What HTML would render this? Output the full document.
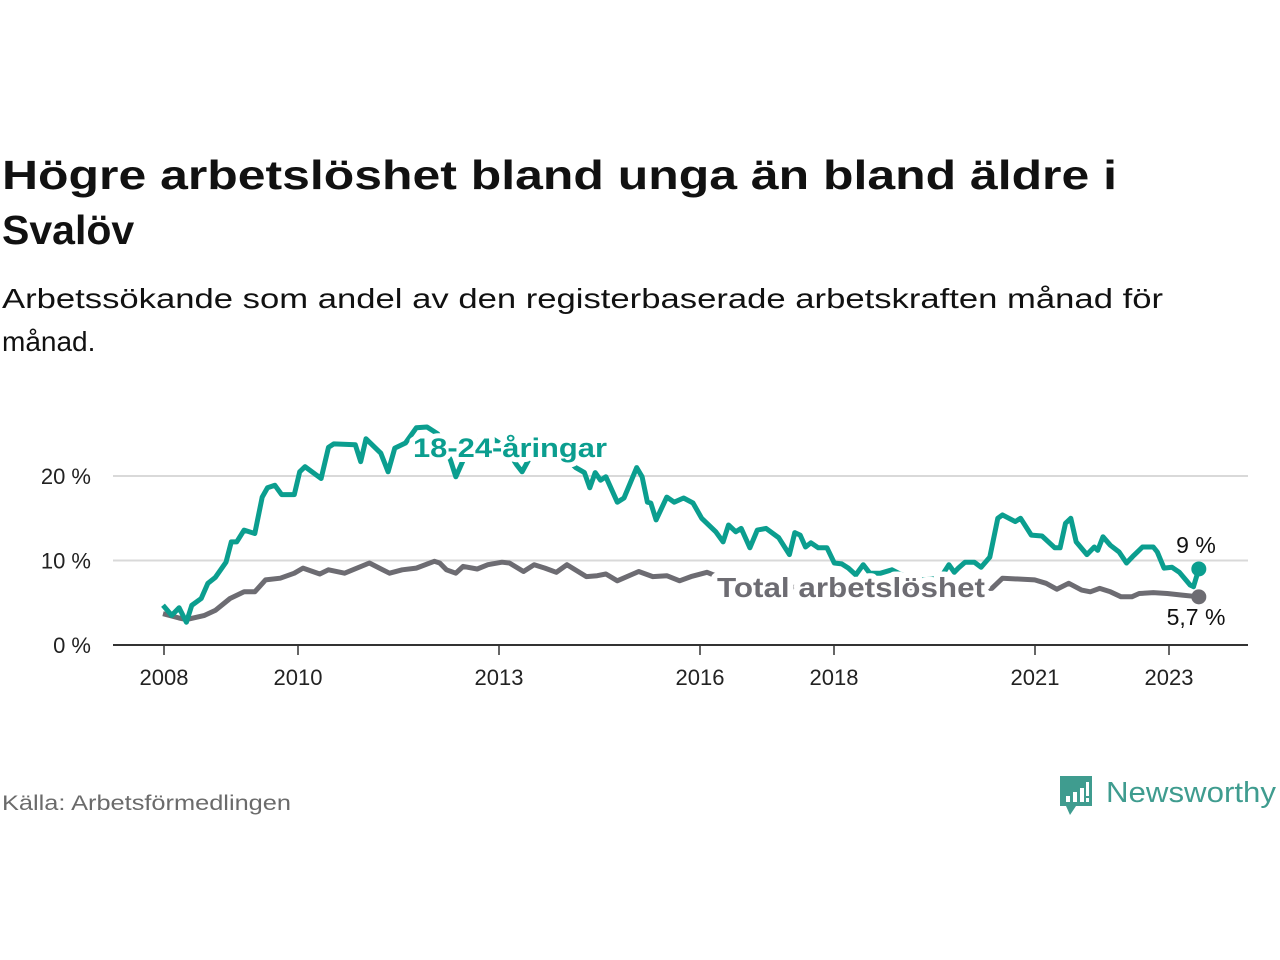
<!DOCTYPE html>
<html><head><meta charset="utf-8"><style>
html,body{margin:0;padding:0;background:#fff;width:1280px;height:960px;overflow:hidden}
svg{display:block;font-family:"Liberation Sans",sans-serif}
</style></head><body>
<svg id="chart" width="1280" height="960" viewBox="0 0 1280 960">
<text x="2" y="189" font-size="41" font-weight="bold" fill="#111" textLength="1115" lengthAdjust="spacingAndGlyphs">Högre arbetslöshet bland unga än bland äldre i</text>
<text x="2" y="244" font-size="41" font-weight="bold" fill="#111">Svalöv</text>
<text x="2" y="308" font-size="28" fill="#111" textLength="1161" lengthAdjust="spacingAndGlyphs">Arbetssökande som andel av den registerbaserade arbetskraften månad för</text>
<text x="2" y="351" font-size="28" fill="#111">månad.</text>
<g id="grid"></g>
<g id="lines"></g>
<g id="labels"></g>
<text x="2" y="810" font-size="21" fill="#6b6b6b" textLength="289" lengthAdjust="spacingAndGlyphs">Källa: Arbetsförmedlingen</text>
<g>
<path d="M1060 776 h32 v30 h-16 l-6 9 l-4 -9 h-6 z" fill="#3f9c8f"/>
<rect x="1066" y="796" width="4" height="6" fill="#fff"/><rect x="1073" y="792" width="4" height="10" fill="#fff"/><rect x="1080" y="788" width="4" height="14" fill="#fff"/><rect x="1086" y="782" width="3" height="14" fill="#fff"/><rect x="1086" y="798" width="3" height="4" fill="#fff"/>
<text x="1106" y="802" font-size="29" fill="#3f9c8f" textLength="170" lengthAdjust="spacingAndGlyphs">Newsworthy</text>
</g>
</svg>
<script>
const yTicks = [0, 10, 20];
const yTickLabels = ["0 %", "10 %", "20 %"];
const xTicks = [2008, 2010, 2013, 2016, 2018, 2021, 2023];
const youthDates = [2008.0,2008.13,2008.24,2008.35,2008.43,2008.57,2008.67,2008.78,2008.94,2009.02,2009.1,2009.21,2009.37,2009.48,2009.56,2009.67,2009.77,2009.96,2010.04,2010.12,2010.36,2010.47,2010.55,2010.87,2010.95,2011.03,2011.25,2011.36,2011.46,2011.62,2011.78,2011.94,2012.1,2012.29,2012.37,2012.6,2012.9,2013.1,2013.28,2013.36,2013.6,2013.9,2014.16,2014.29,2014.37,2014.45,2014.53,2014.61,2014.78,2014.88,2015.07,2015.15,2015.23,2015.28,2015.36,2015.52,2015.63,2015.77,2015.91,2016.04,2016.25,2016.36,2016.44,2016.55,2016.63,2016.76,2016.87,2017.0,2017.19,2017.35,2017.43,2017.51,2017.59,2017.67,2017.78,2017.91,2018.02,2018.13,2018.23,2018.34,2018.45,2018.55,2018.71,2018.88,2019.2,2019.6,2019.73,2019.81,2019.87,2019.97,2020.11,2020.21,2020.34,2020.46,2020.53,2020.72,2020.8,2020.96,2021.12,2021.31,2021.39,2021.47,2021.55,2021.63,2021.79,2021.9,2021.95,2022.03,2022.14,2022.27,2022.38,2022.49,2022.62,2022.78,2022.84,2022.94,2023.06,2023.17,2023.33,2023.38,2023.46];
const youthValues = [4.7,3.5,4.4,2.7,4.7,5.5,7.3,8.0,9.8,12.2,12.2,13.6,13.2,17.5,18.6,18.9,17.8,17.8,20.5,21.1,19.7,23.4,23.8,23.7,21.7,24.4,22.7,20.5,23.3,23.9,25.7,25.8,25.0,21.9,19.9,24.0,24.5,23.5,21.3,20.5,24.0,23.0,21.0,20.4,18.6,20.4,19.5,19.9,16.9,17.4,21.0,19.9,16.9,16.8,14.8,17.5,16.9,17.4,16.8,15.0,13.4,12.2,14.2,13.4,13.8,11.5,13.6,13.8,12.7,10.7,13.3,13.0,11.6,12.1,11.5,11.5,9.7,9.6,9.1,8.3,9.5,8.5,8.5,8.9,7.6,7.9,9.5,8.6,9.1,9.8,9.8,9.2,10.4,15.0,15.4,14.6,15.0,13.0,12.9,11.5,11.5,14.4,15.0,12.2,10.7,11.6,11.2,12.8,11.8,11.0,9.7,10.6,11.6,11.6,11.0,9.1,9.2,8.6,7.1,6.9,9.0];
const totalDates = [2008.0,2008.24,2008.35,2008.62,2008.78,2009.0,2009.21,2009.37,2009.53,2009.75,2009.96,2010.09,2010.34,2010.47,2010.71,2011.08,2011.38,2011.57,2011.78,2012.05,2012.13,2012.23,2012.37,2012.48,2012.69,2012.85,2013.06,2013.17,2013.38,2013.54,2013.7,2013.87,2014.03,2014.32,2014.48,2014.61,2014.78,2015.1,2015.31,2015.52,2015.71,2015.88,2016.12,2016.5,2017.0,2017.5,2018.0,2018.5,2019.0,2019.5,2020.0,2020.37,2020.53,2021.01,2021.18,2021.34,2021.52,2021.71,2021.84,2021.98,2022.14,2022.3,2022.46,2022.57,2022.78,2022.99,2023.21,2023.46];
const totalValues = [3.7,3.2,3.0,3.5,4.1,5.5,6.3,6.3,7.7,7.9,8.5,9.1,8.4,8.9,8.5,9.7,8.5,8.9,9.1,9.9,9.7,8.9,8.5,9.3,9.0,9.5,9.8,9.7,8.7,9.5,9.1,8.6,9.5,8.1,8.2,8.4,7.6,8.7,8.1,8.2,7.6,8.1,8.6,7.4,7.0,6.8,6.6,6.5,6.4,6.5,6.6,6.7,7.9,7.7,7.3,6.6,7.3,6.5,6.3,6.7,6.3,5.7,5.7,6.1,6.2,6.1,5.9,5.7];
const youthLast = "9 %";
const totalLast = "5,7 %";

const NS = "http://www.w3.org/2000/svg";
const x = t => 163 + (t - 2008) * 67;
const y = v => 645 - v * 8.45;
function mk(tag, attrs, parent, text) {
  const e = document.createElementNS(NS, tag);
  for (const k in attrs) e.setAttribute(k, attrs[k]);
  if (text !== undefined) e.textContent = text;
  parent.appendChild(e);
  return e;
}
const grid = document.getElementById('grid');
const lines = document.getElementById('lines');
const labels = document.getElementById('labels');
yTicks.forEach((v, i) => {
  if (v > 0) {
    const g = mk('line', {x1: 113, x2: 1248, y1: y(v), y2: y(v), stroke: '#d9d9d9', 'stroke-width': 2}, grid);
    
    
  }
  const t = mk('text', {x: 91, y: y(v) + 8, 'font-size': 22, 'text-anchor': 'end', fill: '#222'}, grid, yTickLabels[i]);
  
  
});
const ax = mk('line', {x1: 113, x2: 1248, y1: 645, y2: 645, stroke: '#333', 'stroke-width': 2}, grid);


xTicks.forEach(t => {
  const tk = mk('line', {x1: x(t) + 1, x2: x(t) + 1, y1: 645, y2: 655, stroke: '#333', 'stroke-width': 1.5}, grid);
  
  
  const tl = mk('text', {x: x(t) + 1, y: 685, 'font-size': 22, 'text-anchor': 'middle', fill: '#222'}, grid, String(t));
  
  
});
function series(dates, vals, color, name) {
  const d = dates.map((t, i) => (i ? 'L' : 'M') + x(t).toFixed(1) + ' ' + y(vals[i]).toFixed(1)).join(' ');
  const p = mk('path', {d: d, fill: 'none', stroke: color, 'stroke-width': 5, 'stroke-linejoin': 'round'}, lines);
  
  
  const n = dates.length - 1;
  const c = mk('circle', {cx: x(dates[n]), cy: y(vals[n]), r: 7.5, fill: color}, lines);
  
  
}
series(totalDates, totalValues, '#6d6c72', 'total');
series(youthDates, youthValues, '#0b9e8f', 'youth');
function label(txt, xx, yy, color, size, bold, halo, name, len) {
  const attrs = {x: xx, y: yy, 'font-size': size, 'text-anchor': 'middle', fill: color};
  if (bold) attrs['font-weight'] = 'bold';
  if (len) { attrs.textLength = len; attrs.lengthAdjust = 'spacingAndGlyphs'; }
  if (halo) { attrs.stroke = '#fff'; attrs['stroke-width'] = halo; attrs['paint-order'] = 'stroke'; attrs['stroke-linejoin'] = 'round'; }
  const t = mk('text', attrs, labels, txt);
  
  
}
label('18-24-åringar', 510, 457, '#0b9e8f', 27, true, 10, 'youth-series-label', 194);
label('Total arbetslöshet', 851, 597, '#6d6c72', 28, true, 11, 'total-series-label', 268);
label(youthLast, 1196, 553, '#111', 23, false, 6, 'youth-last-value');
label(totalLast, 1196, 625, '#111', 23, false, 6, 'total-last-value');
</script>
</body></html>
